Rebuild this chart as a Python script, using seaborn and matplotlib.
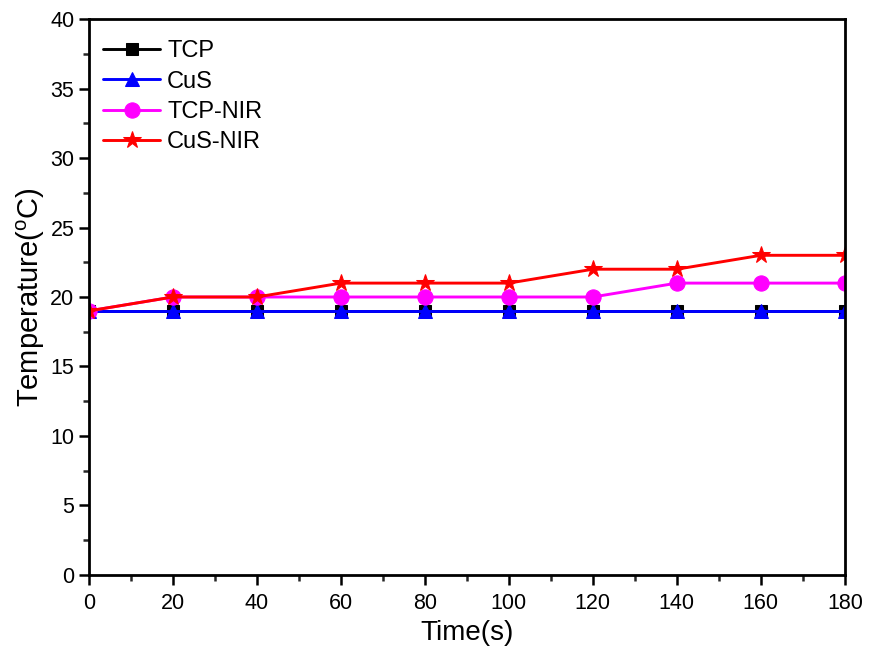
import matplotlib
matplotlib.use("Agg")
import matplotlib.pyplot as plt
import seaborn as sns
import pandas as pd
from matplotlib.ticker import MultipleLocator, AutoMinorLocator

time_s = [0, 20, 40, 60, 80, 100, 120, 140, 160, 180]
tcp = [19, 19, 19, 19, 19, 19, 19, 19, 19, 19]
cus = [19, 19, 19, 19, 19, 19, 19, 19, 19, 19]
tcp_nir = [19, 20, 20, 20, 20, 20, 20, 21, 21, 21]
cus_nir = [19, 20, 20, 21, 21, 21, 22, 22, 23, 23]

series_names = ["TCP", "CuS", "TCP-NIR", "CuS-NIR"]
series_vals = [tcp, cus, tcp_nir, cus_nir]
colors = ["black", "blue", "#ff00ff", "red"]
markers = ["s", "^", "o", "*"]
msizes = [9, 10, 11, 13]

sns.set_theme(style="ticks")
plt.rcParams["font.family"] = ["Liberation Sans", "DejaVu Sans"]
plt.rcParams["mathtext.fontset"] = "custom"
plt.rcParams["mathtext.rm"] = "Liberation Sans"
plt.rcParams["mathtext.it"] = "Liberation Sans"
plt.rcParams["text.color"] = "black"
plt.rcParams["axes.labelcolor"] = "black"

fig = plt.figure(figsize=(8.71, 6.56), dpi=100)
ax = fig.add_axes([0.102, 0.1235, 0.868, 0.8475])

for name, vals, c, m, ms in zip(series_names, series_vals, colors, markers, msizes):
    df = pd.DataFrame({"Time": time_s, "Temp": vals})
    sns.lineplot(data=df, x="Time", y="Temp", ax=ax, color=c, marker=m,
                 markersize=ms, markeredgecolor=c, linewidth=2.1, label=name)

ax.set_xlim(0, 180)
ax.set_ylim(0, 40)
ax.xaxis.set_major_locator(MultipleLocator(20))
ax.xaxis.set_minor_locator(AutoMinorLocator(2))
ax.yaxis.set_major_locator(MultipleLocator(5))
ax.yaxis.set_minor_locator(AutoMinorLocator(2))
ax.tick_params(axis="both", which="major", direction="out", length=7, width=1.8,
               labelsize=15.5, colors="black")
ax.tick_params(axis="x", which="major", pad=6)
ax.tick_params(axis="both", which="minor", direction="out", length=4, width=1.8)
for sp in ax.spines.values():
    sp.set_linewidth(2)
    sp.set_color("black")
    sp.set_visible(True)

ax.set_xlabel("Time(s)", fontsize=20, labelpad=4)
ax.set_ylabel("Temperature($^{\\mathrm{o}}$C)", fontsize=21, labelpad=2)

leg = ax.legend(loc="upper left", bbox_to_anchor=(-0.009, 1.0), frameon=False,
                fontsize=17, handlelength=2.4, labelspacing=0.35,
                borderaxespad=0.5, handletextpad=0.3)

fig.savefig("out.png", dpi=100)
